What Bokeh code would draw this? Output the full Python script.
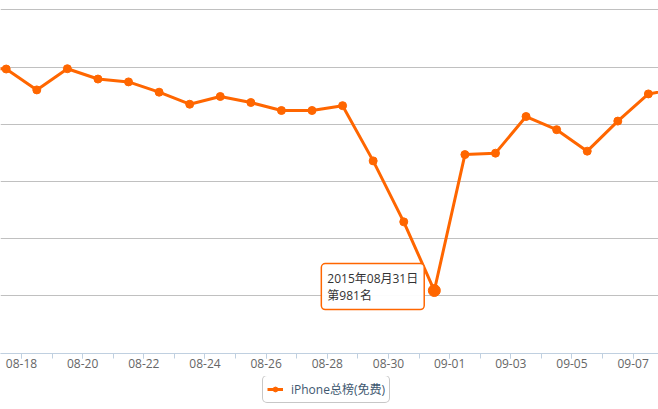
import pandas as pd
from bokeh.plotting import figure
from bokeh.layouts import column
from bokeh.models import Range1d, FixedTicker, DatetimeTickFormatter, Legend, LegendItem, Label
from bokeh.embed import file_html
from bokeh.resources import INLINE

# ---- data (ranks) ----
dates = ["2015-08-16", "2015-08-17", "2015-08-18", "2015-08-19", "2015-08-20",
         "2015-08-21", "2015-08-22", "2015-08-23", "2015-08-24", "2015-08-25",
         "2015-08-26", "2015-08-27", "2015-08-28", "2015-08-29", "2015-08-30",
         "2015-08-31", "2015-09-01", "2015-09-02", "2015-09-03", "2015-09-04",
         "2015-09-05", "2015-09-06", "2015-09-07", "2015-09-08"]
ranks = [202, 207, 280, 206, 242, 252, 288, 330, 303, 324, 352, 352, 335,
         528, 741, 981, 506, 501, 373, 419, 494, 389, 294, 276]
series_name = "iPhone总榜(免费)"
tick_labels = ["08-16", "08-18", "08-20", "08-22", "08-24", "08-26", "08-28", "08-30",
               "09-01", "09-03", "09-05", "09-07", "09-09"]
grid_values = [0, 200, 400, 600, 800, 1000, 1200]
highlight_date = "2015-08-31"

ORANGE = "#FF6600"
FONT = "'Open Sans', 'Noto Sans CJK SC', sans-serif"

day = pd.Timedelta(days=1)
xs = pd.to_datetime(dates) + day / 2          # each day's point sits mid-day
all_days = pd.date_range(dates[0], dates[-1], freq="D")
major = [pd.Timestamp("2015-" + t) for t in tick_labels]
to_ms = lambda ts: ts.value / 1e6

W, H = 658, 409
FRAME_H = 353
AXIS_H = 23
H1 = FRAME_H + AXIS_H
H2 = H - H1
px_day = 30.58
x_start = pd.Timestamp("2015-08-18") - day * (21 / px_day)
x_end = x_start + day * (W / px_day)
xr = Range1d(x_start, x_end)

p = figure(width=W, height=H1, x_axis_type="datetime",
           y_axis_location=None, output_backend="svg", toolbar_location=None,
           x_range=xr, y_range=Range1d(1201, -32.4),
           min_border_left=0, min_border_right=0, min_border_top=0,
           min_border_bottom=AXIS_H)
p.outline_line_color = None
p.background_fill_color = "white"
p.xgrid.visible = False
p.ygrid.ticker = FixedTicker(ticks=grid_values)
p.ygrid.grid_line_color = "#C0C0C0"
p.ygrid.grid_line_width = 1

ax = p.xaxis[0]
ax.ticker = FixedTicker(ticks=[to_ms(t) for t in major],
                        minor_ticks=[to_ms(t) for t in all_days])
ax.formatter = DatetimeTickFormatter(days="%m-%d", months="%m-%d", hours="%m-%d")
ax.axis_line_color = "#C0D0E0"
ax.major_tick_line_color = "#C0D0E0"
ax.minor_tick_line_color = "#C0D0E0"
ax.major_tick_in = 0
ax.major_tick_out = 5
ax.minor_tick_in = 0
ax.minor_tick_out = 5
ax.major_label_text_color = "#666666"
ax.major_label_text_font = FONT
ax.major_label_text_font_size = "12px"
ax.major_label_standoff = 0

line_style = dict(line_color=ORANGE, line_width=3)
dot_style = dict(size=8, fill_color=ORANGE, line_color=ORANGE)
p.line(xs, ranks, **line_style)
p.scatter(xs, ranks, **dot_style)

hi = dates.index(highlight_date)
p.scatter([xs[hi]], [ranks[hi]], size=12, fill_color=ORANGE, line_color=ORANGE)

d = pd.Timestamp(highlight_date)
tip = Label(x=xs[hi], y=ranks[hi], x_units="data", y_units="data",
            text=f"{d.year}年{d.month:02d}月{d.day:02d}日\n第{ranks[hi]}名",
            text_font=FONT, text_font_size="12px", text_color="#333333",
            text_align="left", text_baseline="top", text_line_height=1.0,
            x_offset=-113, y_offset=27,
            background_fill_color="white", background_fill_alpha=0.95,
            border_line_color=ORANGE, border_line_width=1.5, padding=6)
if "border_radius" in Label.properties():
    tip.border_radius = 4
p.add_layout(tip)

# legend strip under the chart: same series, its marks fall outside this strip's range
q = figure(width=W, height=H2, output_backend="svg", toolbar_location=None,
           x_axis_location=None, y_axis_location=None, min_border=0,
           x_range=xr, y_range=Range1d(0, 1))
q.outline_line_color = None
q.xgrid.visible = False
q.ygrid.visible = False
lg_line = q.line(xs, ranks, **line_style)
lg_dot = q.scatter(xs, ranks, **dot_style)
legend = Legend(items=[LegendItem(label=series_name, renderers=[lg_line, lg_dot])],
                location=(262, H2 - 27), orientation="horizontal",
                label_text_font=FONT, label_text_font_size="12px",
                label_text_color="#3E576F", border_line_color="#909090",
                border_line_width=1, padding=4, margin=0, glyph_width=16,
                glyph_height=12, label_height=12, label_standoff=8,
                background_fill_color="white")
if "border_radius" in Legend.properties():
    legend.border_radius = 5
q.add_layout(legend)

layout = column(p, q, spacing=0)
open("out.html", "w").write(file_html(layout, INLINE))
